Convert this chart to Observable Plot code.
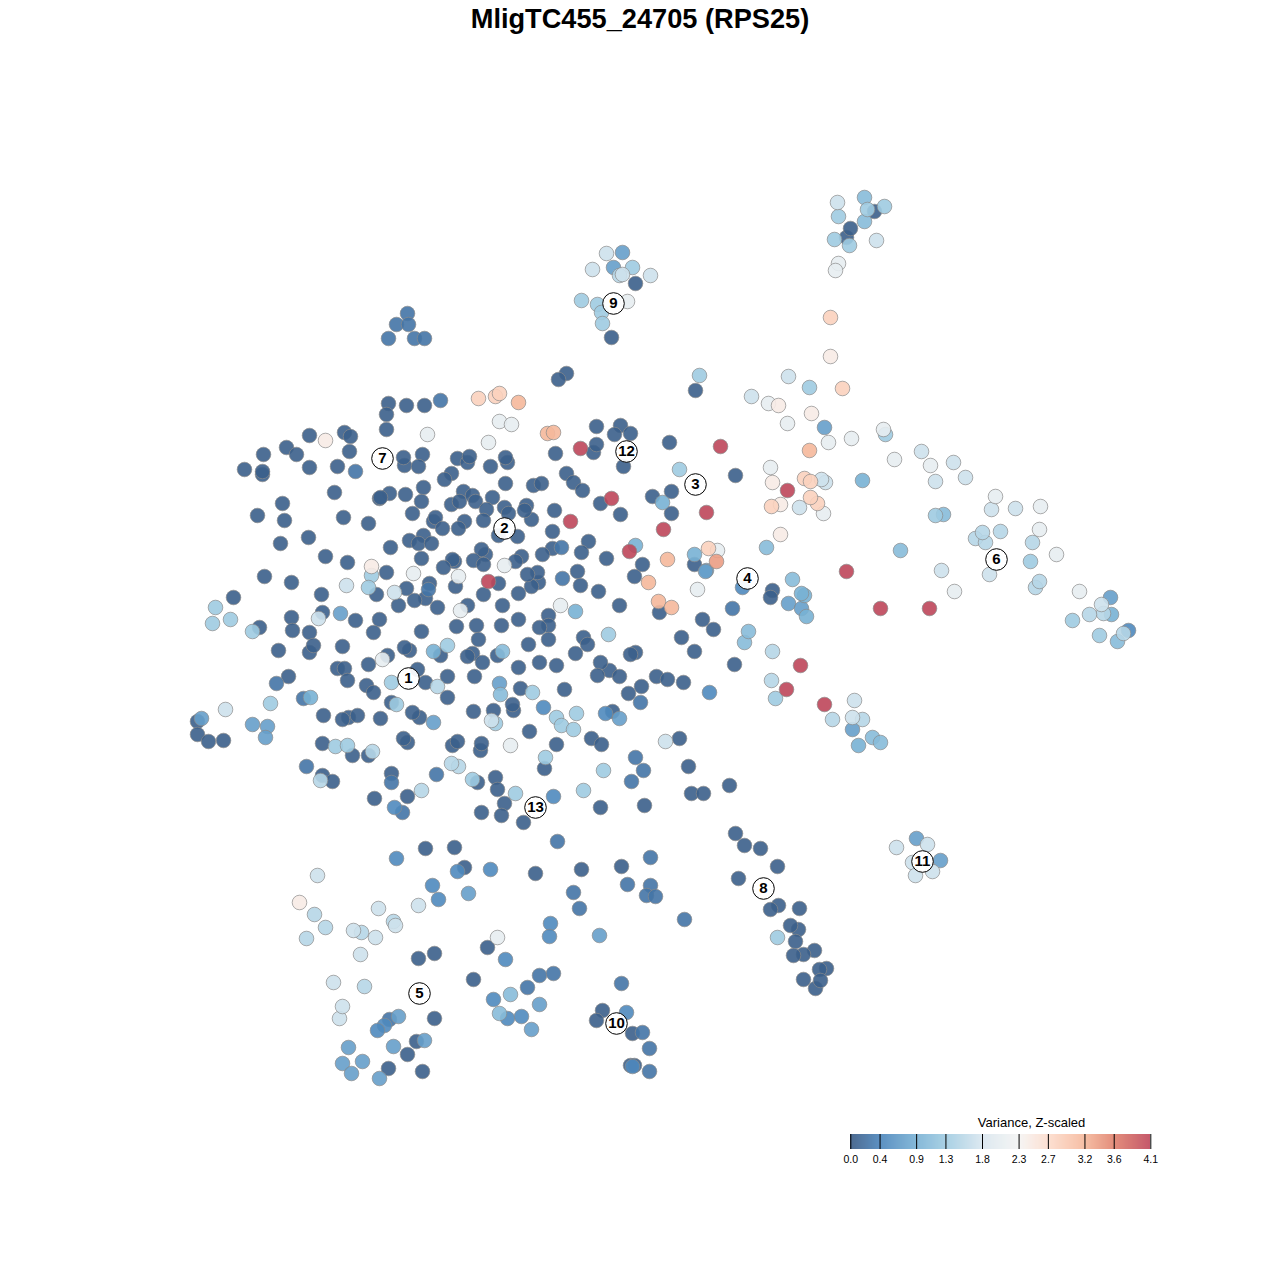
<!DOCTYPE html>
<html><head><meta charset="utf-8">
<script src="https://cdn.jsdelivr.net/npm/d3@7"></script>
<script src="https://cdn.jsdelivr.net/npm/@observablehq/plot@0.6"></script>
<style>
html,body{margin:0;padding:0;background:#fff}
#title{height:36px;line-height:37px;text-align:center;font-family:"Liberation Sans",Arial,sans-serif;font-weight:bold;font-size:27.2px;color:#000;white-space:nowrap}
svg{display:block}
</style></head><body>
<div id="title">MligTC455_24705 (RPS25)</div>
<div id="chart"></div>
<div id="legend"></div>
<script>
const legendTitle = "Variance, Z-scaled";
const legendTicks = [0,0.4,0.9,1.3,1.8,2.3,2.7,3.2,3.6,4.1];
const rampColors = ["#395a84","#4a84bb","#78b1d4","#9fcbe1","#d9e6ef","#f4f4f3","#fddccd","#f5b89b","#e0816d","#be465a"];

const v005 = [[388,403],[406,405],[424,405],[386,414],[386,429],[309,435],[344,432],[350,436],[286,447],[296,454],[263,454],[349,451],[244,469],[262,474],[262,471],[309,467],[337,466],[404,465],[403,457],[422,454],[418,466],[457,458],[467,462],[469,456],[451,473],[444,479],[334,492],[389,493],[379,498],[380,497],[405,494],[423,487],[421,501],[463,491],[451,504],[459,501],[282,503],[257,515],[284,520],[343,517],[368,523],[412,513],[433,521],[435,517],[442,528],[464,521],[458,528],[308,537],[280,543],[423,535],[409,540],[418,543],[431,543],[390,547],[325,556],[347,562],[421,558],[454,561],[452,559],[443,567],[386,572],[455,586],[264,576],[291,582],[321,594],[233,597],[376,594],[406,588],[429,583],[425,598],[414,600],[398,605],[437,607],[467,605],[322,612],
[596,426],[620,425],[614,434],[630,433],[593,452],[596,444],[555,453],[669,442],[623,466],[507,462],[505,457],[490,466],[505,483],[566,473],[573,482],[582,490],[533,485],[541,483],[652,496],[671,491],[671,513],[600,503],[620,514],[492,497],[472,495],[475,501],[486,509],[504,507],[508,513],[526,505],[531,519],[524,510],[554,510],[483,520],[498,535],[517,536],[552,531],[485,554],[481,549],[473,560],[483,564],[588,541],[581,552],[552,548],[542,554],[521,556],[515,561],[606,558],[642,564],[694,564],[634,576],[538,582],[537,572],[531,586],[527,574],[577,571],[580,585],[598,591],[518,593],[498,583],[483,594],[659,612],[619,605],[502,605],[548,615],
[702,619],[713,629],[681,637],[694,651],[734,664],[518,619],[501,625],[476,625],[548,625],[539,627],[478,639],[548,639],[583,637],[587,644],[528,644],[635,652],[630,654],[575,653],[497,655],[472,653],[482,662],[539,662],[556,665],[518,667],[609,670],[600,662],[597,675],[619,676],[656,676],[667,679],[683,682],[474,676],[520,688],[564,689],[641,686],[628,693],[513,710],[512,704],[493,710],[473,711],[612,711],[529,731],[591,738],[601,744],[679,738],[480,750],[481,743],[556,744],[544,768],[688,766],[729,785],[691,793],[703,793],[495,777],[477,782],[497,789],[504,803],[481,812],[501,815],[523,822],[600,807],[644,805],
[259,627],[291,617],[292,630],[355,620],[379,619],[373,632],[309,632],[421,631],[456,626],[278,650],[309,652],[313,645],[342,646],[387,655],[368,664],[409,650],[404,647],[440,655],[467,656],[337,668],[344,668],[347,680],[288,676],[366,685],[373,692],[417,669],[425,682],[447,676],[447,697],[391,702],[323,715],[348,717],[342,719],[357,715],[380,718],[419,717],[412,712],[197,721],[197,734],[208,741],[223,740],[322,743],[352,755],[368,755],[407,742],[403,738],[452,745],[457,741],[322,775],[332,781],[391,773],[374,798],[407,796],
[695,390],[735,475],[772,590],[770,597],[425,848],[454,847],[464,867],[535,873],[487,947],[434,953],[418,958],[473,979],[434,1018],[416,1041],[407,1054],[388,1068],[422,1071],
[735,833],[744,845],[760,848],[777,866],[738,878],[778,905],[770,909],[799,908],[798,929],[790,925],[795,941],[814,950],[803,954],[793,955],[826,968],[819,969],[803,979],[815,988],[820,980],[581,869],[621,866],[602,1010],[596,1020],[632,1033],[630,1065],[634,1065],
[635,283],[611,337],[874,211],[846,237],[850,228],[566,373],[558,379]];
const v025 = [[355,471],[428,589],[561,547],[562,578],[732,608],[640,702],[635,757],[643,770],[631,781],[276,683],[303,698],[391,782],[306,766],[436,774],[402,812],[440,400],[407,313],[396,324],[408,324],[388,338],[414,338],[424,338],[557,841],[539,975],[553,973],[527,987],[389,1019],[650,857],[627,884],[650,885],[646,895],[655,896],[573,892],[579,908],[684,919],[621,983],[642,1032],[649,1048],[649,1071]];
const v045 = [[543,707],[709,692],[605,713],[553,796],[394,807],[396,858],[457,871],[490,869],[432,885],[438,899],[550,923],[549,936],[505,959],[493,999],[507,1018],[521,1016],[384,1025],[377,1030],[626,1012],[632,1066],[742,587],[1128,630]];
const v070 = [[340,613],[433,722],[201,718],[252,724],[267,726],[265,737],[619,718],[468,893],[539,1004],[398,1016],[531,1029],[424,1040],[393,1046],[348,1047],[362,1061],[342,1063],[351,1073],[379,1078],[599,935],[622,252],[613,267],[706,570],[788,603],[801,608],[1110,597],[499,683],[824,427],[852,729],[705,571],[916,838],[940,860]];
const v090 = [[575,611],[635,545],[694,554],[662,502],[862,480],[804,595],[801,593],[806,616],[858,745],[433,651],[1111,614],[310,697]];
const v105 = [[500,694],[502,651],[744,642],[766,547],[900,550],[792,579],[748,631],[872,737],[880,742],[864,197],[864,221],[943,514],[1117,641],[510,994],[499,1013]];
const v130 = [[679,469],[608,634],[532,692],[391,682],[270,703],[396,704],[371,575],[368,587],[447,645],[576,713],[556,717],[561,725],[573,729],[495,723],[545,757],[603,770],[583,790],[515,793],[472,779],[335,746],[347,745],[699,375],[809,387],[885,434],[935,515],[775,698],[581,300],[597,304],[601,312],[602,323],[632,267],[884,206],[867,209],[838,216],[834,239],[849,245],[1030,561],[1072,620],[1099,635],[777,937],[215,607],[212,623],[230,619],[252,631]];
const v150 = [[437,686],[372,751],[320,780],[421,790],[771,680],[832,719],[862,719],[772,651],[325,927],[314,914],[393,921],[306,938],[361,932],[364,986],[1000,531],[975,538],[985,542],[982,532],[1032,542],[1035,587],[1039,581],[1103,613],[1089,614],[1123,633],[458,766],[451,763],[619,275]];
const v170 = [[318,618],[346,585],[394,592],[225,709],[665,741],[854,700],[852,717],[751,396],[788,376],[799,507],[825,482],[821,479],[606,253],[592,269],[650,275],[622,274],[837,202],[876,240],[991,509],[1015,508],[941,570],[989,574],[1101,604],[317,875],[418,905],[378,908],[395,925],[353,930],[375,937],[360,954],[333,982],[339,1018],[342,1006],[491,720],[921,451],[935,481],[953,462],[965,477],[927,844],[896,847],[912,862],[915,875],[932,871]];
const v205 = [[413,573],[458,576],[504,565],[560,605],[460,610],[382,659],[510,745],[499,421],[511,424],[488,442],[427,434],[768,403],[787,423],[851,438],[883,429],[770,467],[823,513],[627,301],[838,263],[835,270],[995,496],[1040,506],[1039,529],[1056,554],[954,591],[1079,591],[717,550],[497,937],[828,442],[894,459],[930,465],[697,589]];
const v245 = [[325,440],[371,566],[778,405],[811,413],[830,356],[780,504],[780,534],[299,902],[772,482]];
const v285 = [[478,398],[495,396],[499,393],[830,317],[842,388],[804,478],[810,481],[771,506],[817,503],[810,497],[708,548]];
const v320 = [[518,402],[547,433],[553,432],[809,450],[667,559],[648,582],[658,601],[671,607]];
const v340 = [[716,561]];
const v410 = [[580,448],[611,498],[570,521],[488,581],[663,529],[706,512],[629,551],[720,446],[787,490],[846,571],[880,608],[929,608],[800,665],[786,689],[824,704]];

const clusterIds = ["1","2","3","4","5","6","7","8","9","10","11","12","13"];
const clusterX = [408,504,695,747,419,996,382,763,613,616,922,626,535];
const clusterY = [678,528,484,578,993,559,458,888,303,1023,861,451,807];

const groups = [[0.05,v005],[0.25,v025],[0.45,v045],[0.7,v070],[0.9,v090],[1.05,v105],[1.3,v130],[1.5,v150],[1.7,v170],[2.05,v205],[2.45,v245],[2.85,v285],[3.2,v320],[3.4,v340],[4.1,v410]];
const cells = groups.flatMap(([v,pts]) => pts.map(([x,y]) => ({x,y,v})));
const clusters = clusterIds.map((id,i) => ({id,x:clusterX[i],y:clusterY[i]}));
const colorScale = {type:"linear",domain:legendTicks,range:rampColors,clamp:true};
const sans = '"Liberation Sans",Arial,sans-serif';

const chart = Plot.plot({
  width:1280,height:1069,margin:0,
  style:{background:"#fff",fontFamily:sans},
  x:{domain:[0,1280],range:[0,1280],axis:null},
  y:{domain:[36,1105],range:[0,1069],axis:null},
  color:colorScale,
  marks:[
    Plot.dot(cells,{x:"x",y:"y",r:7.3,fill:"v",fillOpacity:0.9,stroke:"#8a8a8a",strokeOpacity:0.7,strokeWidth:1}),
    Plot.dot(clusters,{x:"x",y:"y",r:10.8,fill:"#fff",fillOpacity:0.93,stroke:"#000",strokeWidth:1}),
    Plot.text(clusters,{x:"x",y:"y",text:"id",fontSize:15,fontWeight:"bold",fill:"#000",fontFamily:sans})
  ]
});
document.getElementById("chart").append(chart);

const rampStep = 4.1/300;
const ramp = d3.range(0,300).map(i => ({a:i*rampStep,b:(i+1)*rampStep}));
const legend = Plot.plot({
  width:1280,height:70,margin:0,
  style:{background:"#fff",fontFamily:sans},
  x:{domain:[0,4.1],range:[850.3,1150.3],axis:null},
  y:{domain:[0,1],range:[44,29],axis:null},
  color:colorScale,
  marks:[
    Plot.rect(ramp,{x1:"a",x2:"b",y1:0,y2:1,fill:"a",fillOpacity:0.9,shapeRendering:"crispEdges"}),
    Plot.ruleX(legendTicks,{y1:0,y2:1,stroke:"#000",strokeWidth:1}),
    Plot.text(legendTicks,{x:d=>d,y:-0.67,text:d=>d.toFixed(1),fontSize:10.5,fill:"#000",fontFamily:sans}),
    Plot.text([legendTitle],{x:2.47,y:1.8,text:d=>d,fontSize:13,fill:"#000",fontFamily:sans})
  ]
});
document.getElementById("legend").append(legend);
</script>
</body></html>
